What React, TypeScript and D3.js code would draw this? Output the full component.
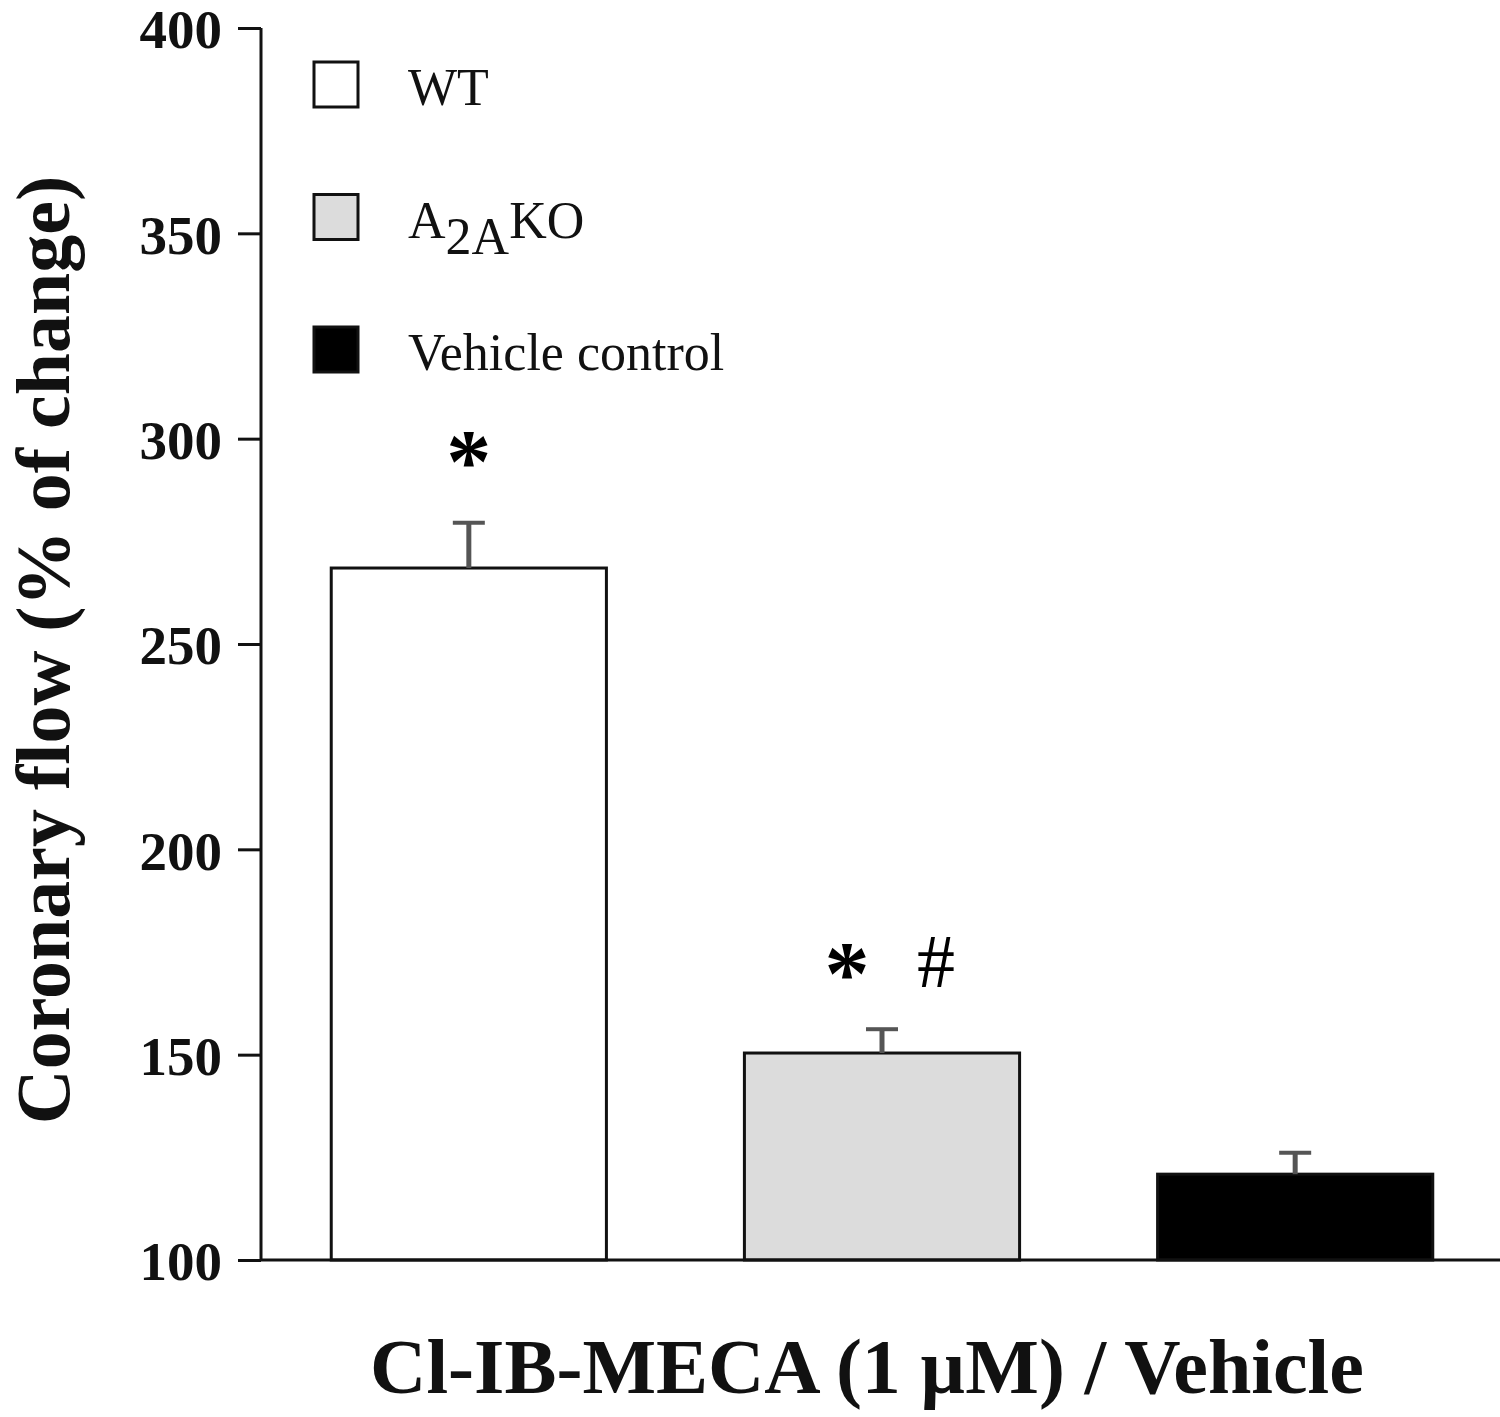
import React, { useEffect, useRef } from "react";
import * as d3 from "d3";

// data
const groups = ["WT", "A2AKO", "Vehicle control"];
const means = [268.5, 150.4, 120.9];
const sems = [11, 5.8, 5.2];
const fills = ["#ffffff", "#dcdcdc", "#000000"];
const marks = ["*", "* #", ""];
const yTicks = [100, 150, 200, 250, 300, 350, 400];

function App() {
  const svgRef = useRef<SVGSVGElement>(null);

  useEffect(() => {
    document.body.style.margin = "0";
    const W = 1500;
    const H = 1417;
    const svg = d3.select(svgRef.current).attr("width", W).attr("height", H);
    svg.selectAll("*").remove();

    const axisX = 261;
    const x = d3
      .scaleBand()
      .domain(groups)
      .range([axisX, 1503])
      .paddingInner(0.334)
      .paddingOuter(0.17);
    const y = d3.scaleLinear().domain([100, 400]).range([1260, 28]);

    const serif = "'Liberation Serif', 'Times New Roman', serif";

    // bars
    svg
      .selectAll("rect.bar")
      .data(groups)
      .join("rect")
      .attr("class", "bar")
      .attr("x", (d) => x(d)!)
      .attr("y", (d, i) => y(means[i]))
      .attr("width", x.bandwidth())
      .attr("height", (d, i) => y(100) - y(means[i]))
      .attr("fill", (d, i) => fills[i])
      .attr("stroke", "#111")
      .attr("stroke-width", 3);

    // error bars (upper half only)
    const eb = svg.append("g").attr("stroke", "#555").attr("stroke-width", 5);
    groups.forEach((g, i) => {
      const cx = x(g)! + x.bandwidth() / 2;
      eb.append("line")
        .attr("x1", cx)
        .attr("x2", cx)
        .attr("y1", y(means[i]))
        .attr("y2", y(means[i] + sems[i]));
      eb.append("line")
        .attr("x1", cx - 16)
        .attr("x2", cx + 16)
        .attr("y1", y(means[i] + sems[i]))
        .attr("y2", y(means[i] + sems[i]))
        .attr("stroke-width", 4);
    });

    // significance marks
    groups.forEach((g, i) => {
      if (!marks[i]) return;
      const cx = x(g)! + x.bandwidth() / 2;
      const top = y(means[i] + sems[i]);
      const parts = marks[i].split(" ");
      const star = svg.append("text")
        .attr("x", parts.length === 1 ? cx : cx - 35)
        .attr("y", top - 31)
        .attr("text-anchor", "middle")
        .attr("font-family", serif)
        .attr("font-weight", "bold")
        .attr("font-size", 90)
        .text(parts[0]);
      if (parts.length > 1) {
        star.attr("y", top - 25);
        svg.append("text")
          .attr("x", cx + 54)
          .attr("y", top - 42)
          .attr("text-anchor", "middle")
          .attr("font-family", serif)
          .attr("font-size", 76)
          .text(parts[1]);
      }
    });

    // y axis
    const yAxis = d3.axisLeft(y).tickValues(yTicks).tickSize(23).tickPadding(16).tickFormat(d3.format("d"));
    svg
      .append("g")
      .attr("transform", `translate(${axisX},0)`)
      .call(yAxis)
      .call((g) => g.select(".domain").attr("d", `M0,${y(400)}V${y(100)}`).attr("stroke", "#111").attr("stroke-width", 3))
      .call((g) => g.selectAll(".tick line").attr("stroke", "#111").attr("stroke-width", 3))
      .call((g) =>
        g
          .selectAll(".tick text")
          .attr("font-family", serif)
          .attr("font-weight", "bold")
          .attr("font-size", 55)
          .attr("fill", "#111")
          .attr("dy", "0.36em")
      );

    // x baseline
    svg.append("line")
      .attr("x1", axisX)
      .attr("x2", W)
      .attr("y1", y(100))
      .attr("y2", y(100))
      .attr("stroke", "#111")
      .attr("stroke-width", 3);

    // axis titles
    svg.append("text")
      .attr("transform", `translate(69, 650) rotate(-90)`)
      .attr("text-anchor", "middle")
      .attr("font-family", serif)
      .attr("font-weight", "bold")
      .attr("font-size", 76)
      .attr("fill", "#111")
      .text("Coronary flow (% of change)");

    svg.append("text")
      .attr("x", 867)
      .attr("y", 1393)
      .attr("text-anchor", "middle")
      .attr("font-family", serif)
      .attr("font-weight", "bold")
      .attr("font-size", 78)
      .attr("fill", "#111")
      .text("Cl-IB-MECA (1 \u00b5M) / Vehicle");

    // legend
    const legend = svg.append("g");
    groups.forEach((g, i) => {
      const ly = 62 + i * 132.5;
      legend.append("rect")
        .attr("x", 314)
        .attr("y", ly)
        .attr("width", 44)
        .attr("height", 45)
        .attr("fill", fills[i])
        .attr("stroke", "#111")
        .attr("stroke-width", 3);
      const t = legend.append("text")
        .attr("x", 408)
        .attr("y", ly + 43)
        .attr("font-family", serif)
        .attr("font-size", 52)
        .attr("fill", "#111");
      if (g === "A2AKO") {
        t.append("tspan").text("A");
        t.append("tspan").attr("dy", 16).text("2A");
        t.append("tspan").attr("dy", -16).text("KO");
      } else {
        t.text(g);
      }
    });
  }, []);

  return <svg ref={svgRef} style={{ display: "block" }}></svg>;
}

export default App;
